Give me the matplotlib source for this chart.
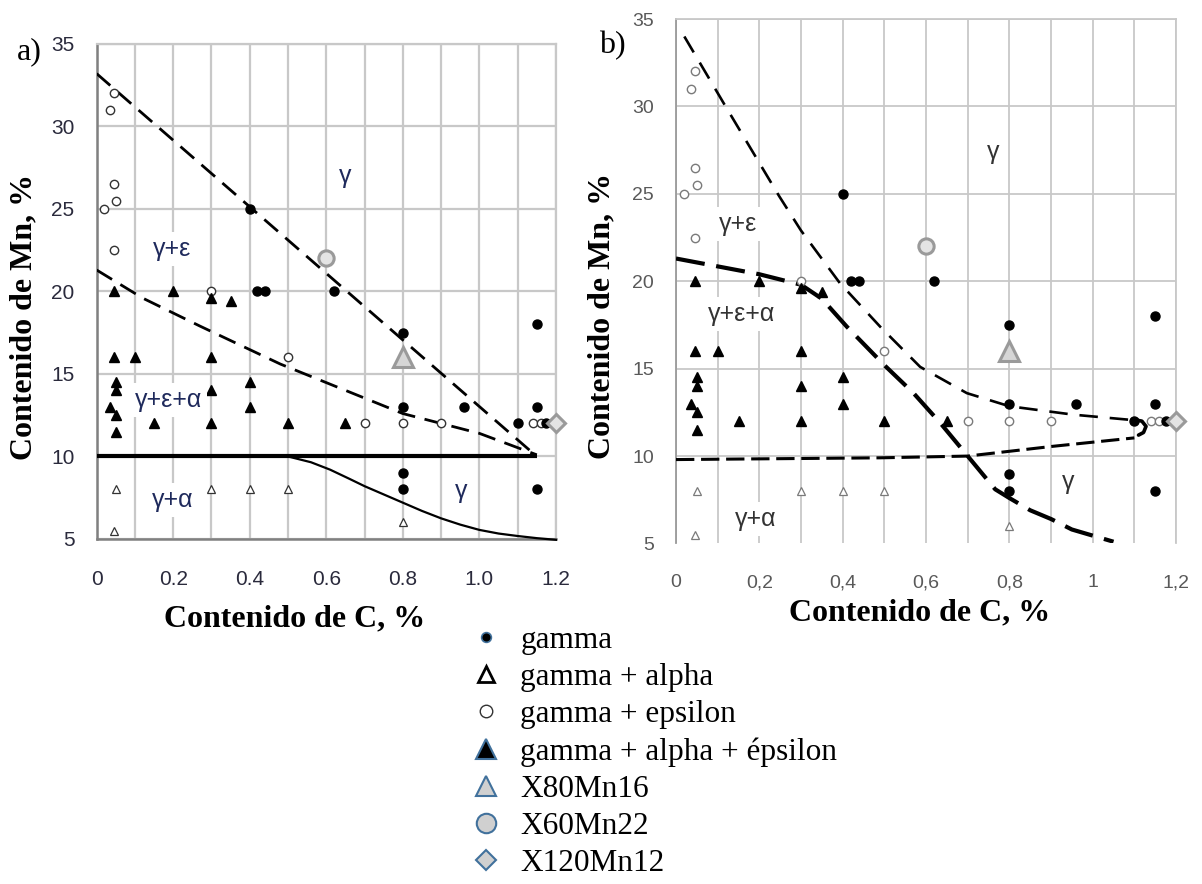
import matplotlib
matplotlib.use("Agg")
import matplotlib.pyplot as plt
from matplotlib.lines import Line2D

# ---------------- data ----------------
gamma_c = [0.40, 0.42, 0.44, 0.62, 0.80, 1.15, 0.80, 0.96, 1.10, 1.15, 0.80, 0.80, 1.15, 1.175]
gamma_mn = [25.0, 20.0, 20.0, 20.0, 17.5, 18.0, 13.0, 13.0, 12.0, 13.0, 9.0, 8.0, 8.0, 12.0]

ga_c = [0.05, 0.045, 0.30, 0.40, 0.50, 0.80]
ga_mn = [8.0, 5.5, 8.0, 8.0, 8.0, 6.0]

ge_c = [0.045, 0.035, 0.045, 0.05, 0.02, 0.045, 0.30, 0.50, 0.70, 0.80, 0.90, 1.14, 1.16]
ge_mn = [32.0, 31.0, 26.5, 25.5, 25.0, 22.5, 20.0, 16.0, 12.0, 12.0, 12.0, 12.0, 12.0]

gae_c = [0.045, 0.20, 0.30, 0.35, 0.045, 0.10, 0.30, 0.05, 0.05, 0.035, 0.05, 0.05,
         0.15, 0.30, 0.30, 0.40, 0.40, 0.50, 0.65]
gae_mn = [20.0, 20.0, 19.6, 19.4, 16.0, 16.0, 16.0, 14.5, 14.0, 13.0, 12.5, 11.5,
          12.0, 14.0, 12.0, 14.5, 13.0, 12.0, 12.0]

x80_c, x80_mn = [0.80], [16.0]
x60_c, x60_mn = [0.60], [22.0]
x120_c, x120_mn = [1.20], [12.0]

# phase boundaries, panel a)
a_upper_c = [0.0, 1.15]
a_upper_mn = [33.2, 10.0]
a_lower_c = [0.0, 0.12, 0.27, 0.48, 0.80, 0.90, 1.00, 1.15]
a_lower_mn = [21.3, 19.6, 17.9, 15.6, 12.6, 12.0, 11.4, 10.1]
a_flat_c = [0.0, 1.15]
a_flat_mn = [10.0, 10.0]
a_curve_c = [0.50, 0.56, 0.61, 0.66, 0.70, 0.75, 0.80, 0.85, 0.90, 0.95, 1.00, 1.05, 1.10, 1.15, 1.20]
a_curve_mn = [10.0, 9.65, 9.2, 8.65, 8.2, 7.7, 7.2, 6.7, 6.25, 5.87, 5.55, 5.33, 5.18, 5.05, 4.95]

# phase boundaries, panel b)
b_upper_c = [0.02, 0.114, 0.248, 0.30, 0.393, 0.49, 0.586, 0.698, 0.80, 0.953, 1.10]
b_upper_mn = [34.0, 30.2, 24.85, 22.9, 19.9, 17.4, 15.1, 13.6, 12.85, 12.37, 12.05]
b_heavy_c = [0.0, 0.20, 0.30, 0.35, 0.41, 0.50, 0.57, 0.634, 0.70, 0.766, 0.80, 0.85, 0.90, 0.95, 1.05]
b_heavy_mn = [21.3, 20.4, 19.8, 19.0, 17.4, 15.2, 13.6, 11.9, 10.0, 8.1, 7.6, 6.9, 6.4, 5.8, 5.1]
b_low_c = [0.0, 0.49, 0.70, 0.905, 1.10]
b_low_mn = [9.8, 9.9, 10.0, 10.56, 11.04]
b_hook_c = [1.095, 1.118, 1.128, 1.122, 1.110]
b_hook_mn = [12.1, 12.0, 11.7, 11.35, 11.2]

xticks = [0, 0.2, 0.4, 0.6, 0.8, 1.0, 1.2]
xlabels_a = ["0", "0.2", "0.4", "0.6", "0.8", "1.0", "1.2"]
xlabels_b = ["0", "0,2", "0,4", "0,6", "0,8", "1", "1,2"]
yticks = [5, 10, 15, 20, 25, 30, 35]

legend_labels = ["gamma", "gamma + alpha", "gamma + epsilon", "gamma + alpha + épsilon",
                 "X80Mn16", "X60Mn22", "X120Mn12"]

# ---------------- figure ----------------
SERIF = ["Liberation Serif", "DejaVu Serif"]
SANS = ["Liberation Sans", "DejaVu Sans"]

fig = plt.figure(figsize=(12.02, 8.84), dpi=100)
axA = fig.add_axes([0.0804, 0.3903, 0.3821, 0.5600])
axB = fig.add_axes([0.5624, 0.3852, 0.4160, 0.5933])

GRID = "#c8c8c8"


def setup(ax, xlabels, tick_color, tick_size, grid_lw):
    ax.set_xlim(0, 1.2)
    ax.set_ylim(5, 35)
    ax.set_xticks(xticks)
    ax.set_xticks([0.1, 0.3, 0.5, 0.7, 0.9, 1.1], minor=True)
    ax.set_yticks(yticks)
    ax.set_xticklabels(xlabels, family=SANS)
    ax.set_yticklabels([str(v) for v in yticks], family=SANS)
    ax.tick_params(axis="both", which="both", length=0, labelsize=tick_size,
                   labelcolor=tick_color)
    ax.tick_params(axis="x", pad=22)
    ax.tick_params(axis="y", pad=16)
    ax.grid(True, which="both", color=GRID, lw=grid_lw, zorder=0)
    ax.set_axisbelow(True)
    for s in ["top", "right"]:
        ax.spines[s].set_color(GRID)
        ax.spines[s].set_linewidth(grid_lw)


setup(axA, xlabels_a, "#2a2a3c", 15, 1.6)
setup(axB, xlabels_b, "#595959", 14, 1.3)
for s in ["left", "bottom"]:
    axA.spines[s].set_color("#808080")
    axA.spines[s].set_linewidth(1.8)
axB.spines["left"].set_color("#9a9a9a")
axB.spines["left"].set_linewidth(1.3)
axB.spines["bottom"].set_visible(False)
axB.yaxis.get_gridlines()[0].set_visible(False)

# ---------------- panel a lines ----------------
axA.plot(a_upper_c, a_upper_mn, color="black", lw=2.0, dashes=(6.5, 3.5), zorder=3)
axA.plot(a_lower_c, a_lower_mn, color="black", lw=2.0, dashes=(6.5, 3.5), zorder=3)
axA.plot(a_flat_c, a_flat_mn, color="black", lw=3.0, zorder=3, solid_capstyle="butt")
axA.plot(a_curve_c, a_curve_mn, color="black", lw=1.6, zorder=3, clip_on=False)

# ---------------- panel b lines ----------------
axB.plot(b_upper_c, b_upper_mn, color="black", lw=1.9, dashes=(7, 4.5), zorder=3)
axB.plot(b_heavy_c, b_heavy_mn, color="black", lw=3.0, dashes=(7, 2.8), zorder=3)
axB.plot(b_low_c, b_low_mn, color="black", lw=2.2, dashes=(6, 2.2), zorder=3)
axB.plot(b_hook_c, b_hook_mn, color="black", lw=2.6, zorder=3, solid_capstyle="round")


def scatter(ax, open_edge):
    ax.plot(gamma_c, gamma_mn, ls="none", marker="o", ms=6.5, mfc="black", mec="black", zorder=5)
    ax.plot(gae_c, gae_mn, ls="none", marker="^", ms=7.5, mfc="black", mec="black", zorder=5)
    ax.plot(ge_c, ge_mn, ls="none", marker="o", ms=6, mfc="white", mec=open_edge, mew=1.0, zorder=4)
    ax.plot(ga_c, ga_mn, ls="none", marker="^", ms=6, mfc="white", mec=open_edge, mew=0.9, zorder=4)
    ax.plot(x60_c, x60_mn, ls="none", marker="o", ms=11, mfc="#e4e4e4", mec="#9a9a9a", mew=2.2, zorder=6)
    ax.plot(x80_c, x80_mn, ls="none", marker="^", ms=14, mfc="#d6d6d6", mec="#9a9a9a", mew=2.2, zorder=6)
    ax.plot(x120_c, x120_mn, ls="none", marker="D", ms=9, mfc="#e4e4e4", mec="#9a9a9a", mew=2.2,
            zorder=6, clip_on=False)


scatter(axA, "#333333")
scatter(axB, "#7a7a7a")

# ---------------- region labels ----------------
labA = dict(family=SANS, fontsize=18, color="#1f2a5c", ha="center", va="center", zorder=7,
            bbox=dict(boxstyle="square,pad=0.2", fc="white", ec="none"))
plainA = {k: v for k, v in labA.items() if k != "bbox"}
axA.text(0.65, 27.0, "γ", **plainA)
axA.text(0.196, 22.6, "γ+ε", **labA)
axA.text(0.187, 13.4, "γ+ε+α", **labA)
axA.text(0.198, 7.35, "γ+α", **labA)
axA.text(0.953, 7.9, "γ", **plainA)

labB = dict(family=SANS, fontsize=18, color="#333333", ha="center", va="center", zorder=7,
            bbox=dict(boxstyle="square,pad=0.2", fc="white", ec="none"))
plainB = {k: v for k, v in labB.items() if k != "bbox"}
axB.text(0.76, 27.4, "γ", **plainB)
axB.text(0.15, 23.3, "γ+ε", **labB)
axB.text(0.157, 18.1, "γ+ε+α", **labB)
axB.text(0.19, 6.4, "γ+α", **labB)
axB.text(0.94, 8.5, "γ", **plainB)

# ---------------- axis titles and panel letters ----------------
tfont = dict(family=SERIF, fontsize=23, fontweight="bold", color="black")
fig.text(24 / 1202, 1 - 317 / 884, "Contenido de Mn, %", rotation=90, ha="center", va="center", **tfont)
fig.text(602 / 1202, 1 - 316 / 884, "Contenido de Mn, %", rotation=90, ha="center", va="center", **tfont)
fig.text(295 / 1202, 1 - 619 / 884, "Contenido de C, %", ha="center", va="center", **tfont)
fig.text(920 / 1202, 1 - 613 / 884, "Contenido de C, %", ha="center", va="center", **tfont)
fig.text(29 / 1202, 1 - 52 / 884, "a)", family=SERIF, fontsize=23, ha="center", va="center")
fig.text(612 / 1202, 1 - 46 / 884, "b)", family=SERIF, fontsize=23, ha="center", va="center")

# ---------------- legend ----------------
EDGE = "#41719c"
handles = [
    Line2D([], [], ls="none", marker="o", ms=7, mfc="black", mec=EDGE, mew=1.2),
    Line2D([], [], ls="none", marker="^", ms=11, mfc="white", mec="black", mew=2.0),
    Line2D([], [], ls="none", marker="o", ms=9, mfc="white", mec="#333333", mew=1.0),
    Line2D([], [], ls="none", marker="^", ms=14, mfc="black", mec=EDGE, mew=1.5),
    Line2D([], [], ls="none", marker="^", ms=14, mfc="#d0d0d0", mec=EDGE, mew=1.5),
    Line2D([], [], ls="none", marker="o", ms=14, mfc="#d0d0d0", mec=EDGE, mew=1.5),
    Line2D([], [], ls="none", marker="D", ms=10, mfc="#d0d0d0", mec=EDGE, mew=1.5),
]
fig.legend(handles, legend_labels, loc="upper left", bbox_to_anchor=(467 / 1202, 1 - 626 / 884),
           frameon=False, prop=dict(family=SERIF, size=22.5), handlelength=1.2,
           handletextpad=0.5, labelspacing=0.26, borderpad=0, borderaxespad=0)

fig.savefig("out.png", dpi=100)
